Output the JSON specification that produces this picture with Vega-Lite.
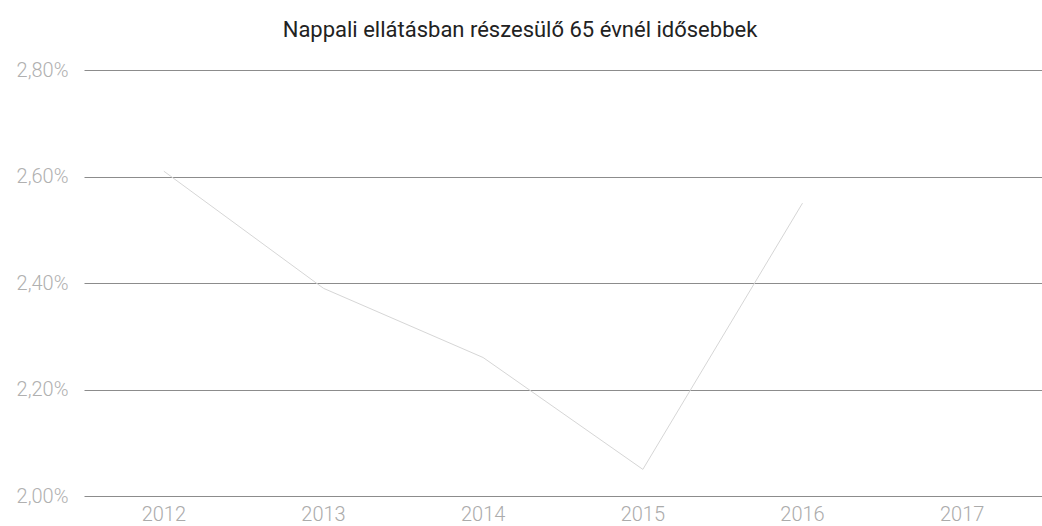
{
  "$schema": "https://vega.github.io/schema/vega-lite/v6.json",
  "autosize": {"type": "none"},
  "padding": {"left": 84, "top": 70, "right": 0, "bottom": 30},
  "width": 958,
  "height": 426,
  "background": "white",
  "title": {
    "text": "Nappali ellátásban részesülő 65 évnél idősebbek",
    "font": "Roboto",
    "fontSize": 22,
    "fontWeight": "normal",
    "color": "#222222",
    "anchor": "middle",
    "dx": -43,
    "offset": 18
  },
  "config": {
    "view": {"stroke": null},
    "locale": {"number": {"decimal": ",", "thousands": " ", "grouping": [3], "currency": ["", " Ft"]}}
  },
  "data": {
    "values": [
      {"year": "2012", "value": 0.0261},
      {"year": "2013", "value": 0.0239},
      {"year": "2014", "value": 0.0226},
      {"year": "2015", "value": 0.0205},
      {"year": "2016", "value": 0.0255},
      {"year": "2017", "value": null}
    ]
  },
  "mark": {"type": "line", "color": "#d6d6d6", "strokeWidth": 1},
  "encoding": {
    "x": {
      "field": "year",
      "type": "ordinal",
      "scale": {"type": "band", "paddingInner": 0, "paddingOuter": 0, "domain": ["2012", "2013", "2014", "2015", "2016", "2017"]},
      "axis": {
        "title": null,
        "domain": false,
        "ticks": false,
        "grid": false,
        "labelAngle": 0,
        "labelFont": "Roboto",
        "labelFontWeight": 300,
        "labelFontSize": 20,
        "labelColor": "#ababab",
        "labelPadding": 8
      }
    },
    "y": {
      "field": "value",
      "type": "quantitative",
      "scale": {"domain": [0.02, 0.028], "nice": false, "zero": false},
      "axis": {
        "title": null,
        "values": [0.02, 0.022, 0.024, 0.026, 0.028],
        "format": ".2%",
        "domain": false,
        "ticks": false,
        "grid": true,
        "gridColor": "#8c8c8c",
        "gridWidth": 1,
        "labelFont": "Roboto",
        "labelFontWeight": 300,
        "labelFontSize": 20,
        "labelColor": "#b0b0b0",
        "labelPadding": 16
      }
    }
  }
}
